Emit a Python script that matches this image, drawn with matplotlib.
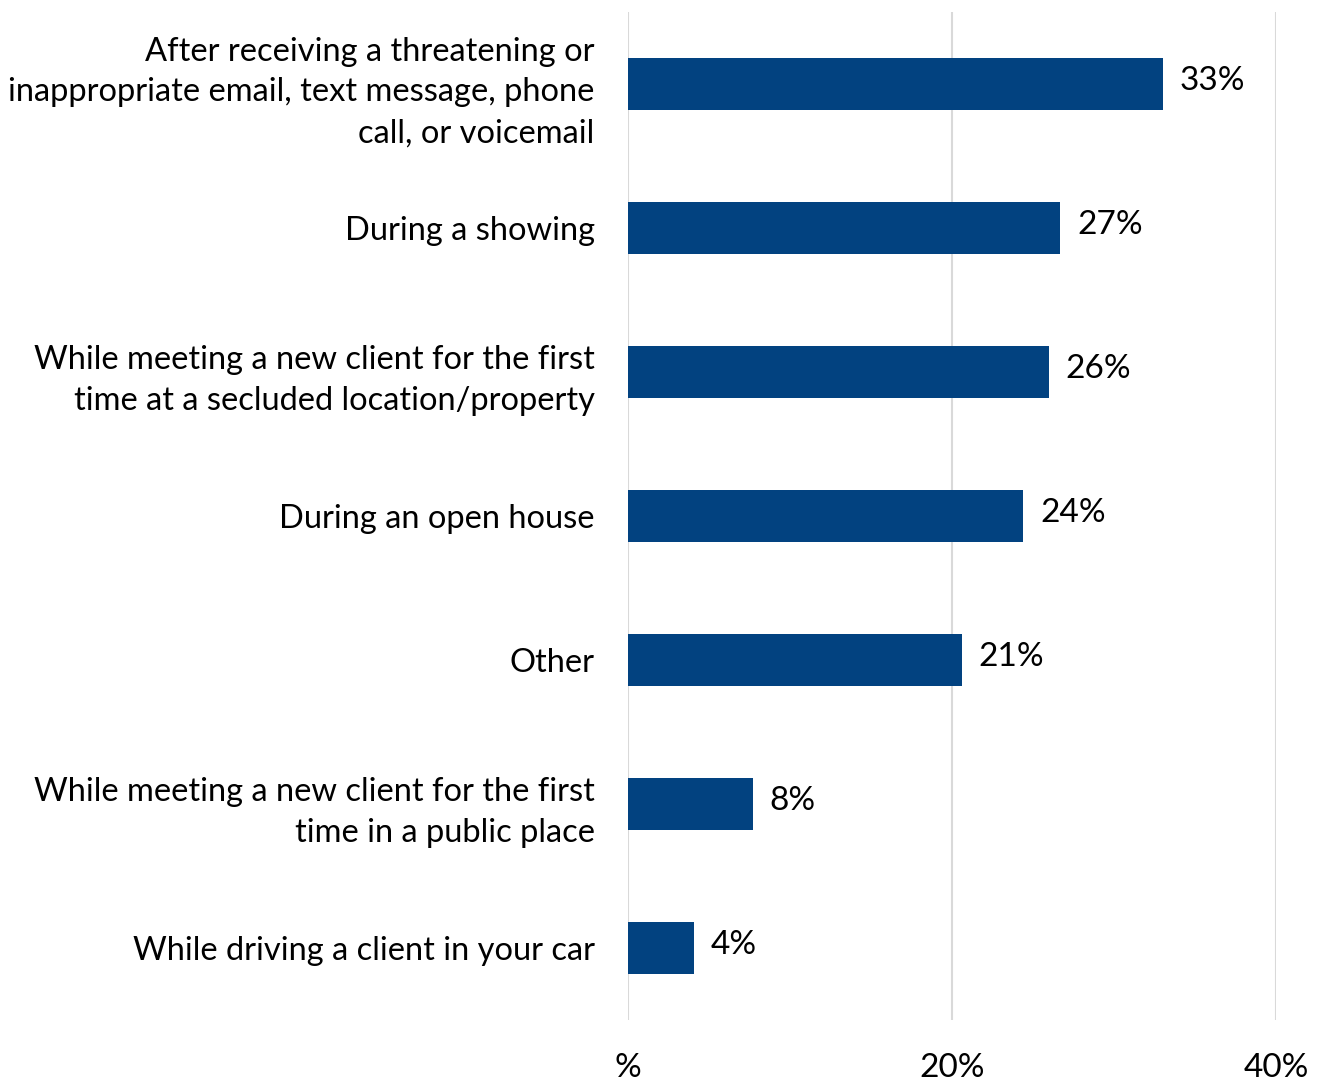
import numpy as np
import matplotlib.pyplot as plt

plt.rcParams['font.family'] = ['Lato', 'DejaVu Sans']

# categories top to bottom
categories = [
    "After receiving a threatening or\ninappropriate email, text message, phone\ncall, or voicemail",
    "During a showing",
    "While meeting a new client for the first\ntime at a secluded location/property",
    "During an open house",
    "Other",
    "While meeting a new client for the first\ntime in a public place",
    "While driving a client in your car",
]
values = [33.0, 26.7, 26.0, 24.4, 20.6, 7.7, 4.1]
value_labels = ["33%", "27%", "26%", "24%", "21%", "8%", "4%"]
x_ticks = [0, 20, 40]
x_tick_labels = ["%", "20%", "40%"]

bar_color = "#024280"

fig = plt.figure(figsize=(13.24, 10.83), dpi=100)
ax = fig.add_axes([0.4743, 0.0582, 0.4894, 0.9307])

y = np.arange(len(categories))
ax.barh(y, values, height=0.355, color=bar_color, zorder=3)

for yi, v, lab in zip(y, values, value_labels):
    ax.annotate(lab, (v, yi), xytext=(12, 2), textcoords="offset points",
                va="center", ha="left", fontsize=24, color="black")

ax.set_ylim(len(categories) - 0.5, -0.5)
ax.set_xlim(0, 40)
ax.set_yticks(y)
ax.set_yticklabels(categories, fontsize=23.5, linespacing=1.45)
ax.set_xticks(x_ticks)
ax.set_xticklabels(x_tick_labels, fontsize=24)
ax.tick_params(axis="y", length=0, pad=24)
ax.tick_params(axis="x", length=0, pad=24)

ax.grid(axis="x", color="#d9d9d9", linewidth=1.5, zorder=0)
for s in ax.spines.values():
    s.set_visible(False)

fig.savefig("out.png", dpi=100)
